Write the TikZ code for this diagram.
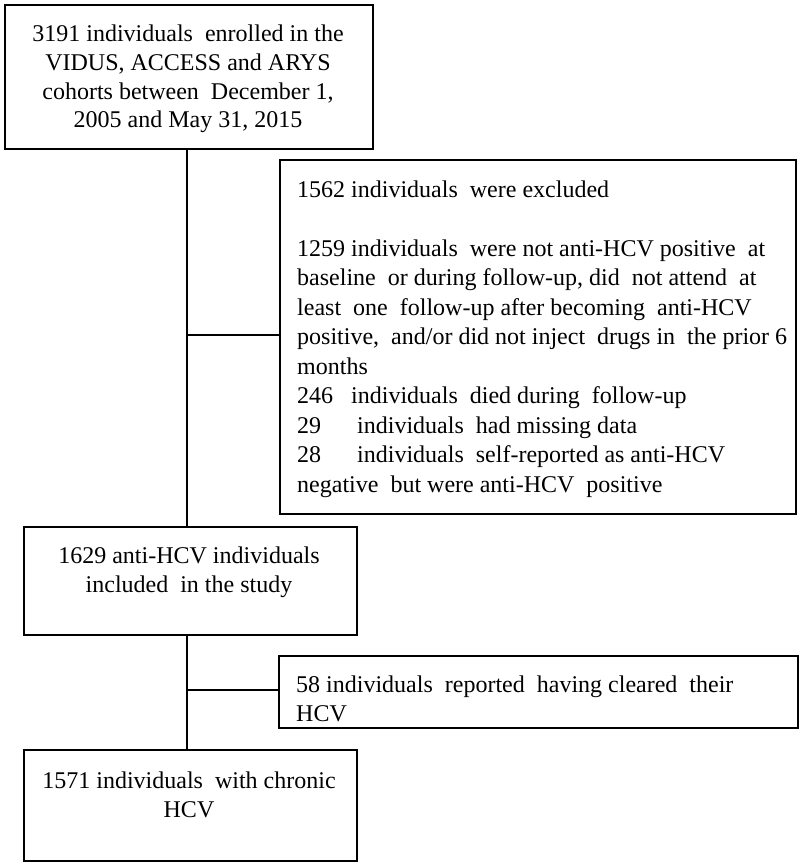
\documentclass[tikz,border=0pt]{standalone}
\usepackage{fontspec}
\setmainfont{Liberation Serif}
\usetikzlibrary{calc}
\begin{document}
\begin{tikzpicture}[x=1pt,y=-1pt,
  box/.style={draw=black, line width=1.7pt, inner sep=0pt, anchor=north west},
  txt/.style={inner sep=0pt, font=\fontsize{24}{28.8}\selectfont},
  link/.style={draw=black, line width=1.4pt}]
\useasboundingbox[fill=white] (0,0) rectangle (800,864);
% boxes
\node[box, minimum width=368pt, minimum height=144pt] (b1) at (4,4) {};
\node[box, minimum width=516pt, minimum height=354pt] (b2) at (279,159) {};
\node[box, minimum width=333pt, minimum height=108pt] (b3) at (23,526) {};
\node[box, minimum width=519pt, minimum height=72pt] (b4) at (278,655) {};
\node[box, minimum width=333pt, minimum height=111pt] (b5) at (23,749) {};
% texts (anchored at the baseline of their last line)
\node[txt, anchor=base, align=center] (t1) at (188,128)
  {3191 individuals\ \ enrolled in the\\VIDUS, ACCESS and ARYS\\cohorts between\ \ December 1,\\2005 and May 31, 2015};
\node[txt, anchor=base west, align=left, font=\fontsize{24}{29.5}\selectfont] (t2) at (297,492)
  {1562 individuals\ \ were excluded\\[29.5pt]
   1259 individuals\ \ were not anti-HCV positive\ \ at\\
   baseline\ \ or during follow-up, did\ \ not attend\ \ at\\
   least\ \ one\ \ follow-up after becoming\ \ anti-HCV\\
   positive,\ \ and/or did not inject\ \ drugs in\ \ the prior 6\\
   months\\
   \makebox[54pt][l]{246}individuals\ \ died during\ \ follow-up\\
   \makebox[60pt][l]{29}individuals\ \ had missing data\\
   \makebox[60pt][l]{28}individuals\ \ self-reported as anti-HCV\\
   negative\ \ but were anti-HCV\ \ positive};
\node[txt, anchor=base, align=center, font=\fontsize{24}{29}\selectfont] (t3) at (189,592)
  {1629 anti-HCV individuals\\included\ \ in the study};
\node[txt, anchor=base west, align=left, font=\fontsize{24}{29}\selectfont] (t4) at (296,721)
  {58 individuals\ \ reported\ \ having cleared\ \ their\\HCV};
\node[txt, anchor=base, align=center, font=\fontsize{24}{29}\selectfont] (t5) at (189,817)
  {1571 individuals\ \ with chronic\\HCV};
% connectors
\coordinate (j1) at (187,335);
\coordinate (j2) at (187,690);
\draw[link] (187,148) coordinate (s1) -- (s1 |- b3.north);
\draw[link] (j1) -- (j1 -| b2.west);
\draw[link] (187,634) coordinate (s2) -- (s2 |- b5.north);
\draw[link] (j2) -- (j2 -| b4.west);
\end{tikzpicture}
\end{document}
